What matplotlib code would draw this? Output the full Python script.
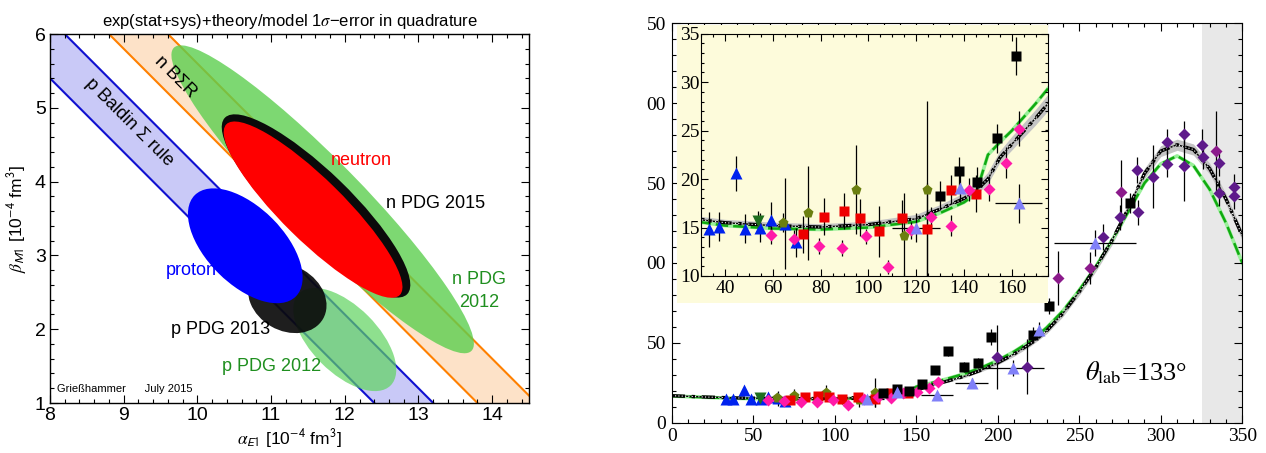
import numpy as np
import matplotlib.pyplot as plt
from matplotlib.patches import Ellipse, Rectangle

plt.rcParams['mathtext.fontset'] = 'stix'
SANS = 'Liberation Sans'
SERIF = 'Liberation Serif'

# ---------------- left panel data ----------------
# sum-rule bands: alpha + beta between lo and hi
baldin_p = (13.4, 14.2)
baldin_n = (14.8, 15.6)

# ellipses: (name, center_x, center_y, semi_major, semi_minor, angle, colour, alpha)
ellipses = [
    ('n PDG 2012', 11.70, 3.76, 2.88, 0.52, -45.5, '#5ccf4f', 0.8),
    ('n PDG 2015', 11.61, 3.67, 1.72, 0.47, -44, '#0a0a0a', 1.0),
    ('neutron',    11.57, 3.62, 1.65, 0.42, -44.5, '#ff0000', 1.0),
    ('p PDG 2012', 12.00, 1.86, 0.88, 0.45, -45, '#5fd35f', 0.7),
    ('p PDG 2013', 11.22, 2.42, 0.56, 0.44, -30, '#0a0a0a', 0.92),
    ('proton',     10.65, 3.13, 0.97, 0.52, -45, '#0000ff', 1.0),
]

# ---------------- right panel data ----------------
curve_x = [0, 20, 40, 60, 80, 100, 120, 130, 140, 145, 150, 155, 160, 170, 180, 190,
           200, 210, 220, 230, 240, 250, 260, 270, 280, 290, 300, 310, 320, 330, 340, 350]
theory_y = [16.9, 16.1, 15.5, 15.2, 15.05, 15.3, 15.9, 16.9, 18.0, 18.8, 20.0, 22.2, 23.6,
            26.3, 29.2, 33.0, 37.5, 43.0, 49.5, 57.5, 68.5, 82.0, 97.0, 114.0, 134.0, 156.0,
            170.0, 174.0, 171.0, 159.0, 140.0, 117.0]
theory_err = [0.3, 0.3, 0.3, 0.3, 0.3, 0.3, 0.4, 0.4, 0.5, 0.5, 0.6, 0.6, 0.7, 0.8, 0.9, 1.0,
              1.2, 1.4, 1.6, 1.8, 2.0, 2.2, 2.5, 2.8, 3.0, 3.2, 3.4, 3.5, 3.5, 3.4, 3.2, 3.0]
green_y = [16.7, 15.9, 15.2, 14.9, 14.8, 15.0, 15.6, 16.5, 17.6, 18.5, 22.5, 23.8, 25.0,
           27.8, 30.8, 34.5, 39.0, 44.5, 51.0, 59.5, 70.0, 83.0, 97.5, 114.0, 132.0, 150.0,
           162.0, 167.0, 161.0, 146.0, 125.0, 100.0]

blue_tri_x = [33.5, 37.5, 44.5, 48.4, 54.6, 59.2, 65.3, 69.7]
blue_tri_y = [14.8, 15.1, 20.6, 14.9, 15.0, 15.8, 15.4, 13.5]
blue_tri_e = [1.8, 1.5, 1.8, 1.5, 1.5, 1.8, 4.7, 1.5]

dgreen_x = [54.0]
dgreen_y = [15.7]
dgreen_e = [1.0]

olive_x = [64.4, 74.8, 94.7, 114.7, 124.5]
olive_y = [15.5, 16.5, 18.9, 14.1, 18.9]
olive_e = [1.0, 4.8, 4.6, 4.5, 9.2]

red_x = [72.7, 81.5, 89.7, 96.4, 104.5, 114.2, 124.5, 134.6, 145.1]
red_y = [14.3, 16.1, 16.7, 16.0, 14.6, 16.0, 14.8, 18.9, 18.5]
red_e = [1.9, 1.9, 1.9, 1.9, 2.6, 1.8, 4.8, 1.5, 1.9]

pink_x = [59.1, 68.8, 79.3, 89.0, 98.9, 108.2, 117.9, 126.4, 134.6, 142.0, 150.4, 157.6, 163.2]
pink_y = [14.2, 13.8, 13.1, 12.9, 14.1, 10.9, 14.7, 16.1, 15.2, 18.9, 19.0, 21.7, 25.2]
pink_e = [0.9, 0.9, 0.8, 0.8, 0.8, 0.7, 0.9, 1.0, 1.1, 1.2, 1.3, 1.6, 1.8]

black_x = [129.8, 137.9, 145.4, 153.7, 161.8, 169.7, 179.0, 188.0, 196.0, 221.8, 231.5, 281.3]
black_y = [18.3, 20.8, 19.7, 24.2, 32.7, 44.6, 34.7, 37.2, 53.6, 55.0, 72.8, 137.5]
black_e = [1.5, 1.5, 1.5, 1.5, 2.0, 3.0, 3.0, 3.0, 5.0, 5.0, 5.0, 6.0]

lblue_x = [120.0, 138.5, 162.8, 183.9, 209.5, 225.0, 259.8]
lblue_y = [15.0, 19.1, 17.5, 25.1, 34.1, 58.2, 112.5]
lblue_xe = [10, 0, 10, 10, 19, 0, 25]
lblue_e = [1.5, 1.5, 2.0, 3.0, 5.0, 5.0, 8.0]

purple_x = [199.3, 218.0, 264.8, 275.0, 285.3, 286.3, 295.5, 303.7, 303.7, 314.0, 314.0,
            325.2, 325.6, 335.8, 335.8, 345.2, 345.2]
purple_y = [41.4, 35.1, 116.1, 128.5, 158.3, 131.6, 154.1, 176.0, 162.0, 180.8, 160.8,
            173.9, 166.6, 162.5, 143.7, 147.4, 142.0]
purple_e = [20, 17, 8, 8, 8, 8, 20, 8, 8, 8, 22, 10, 8, 8, 8, 8, 8]

mpurple_x = [237.2, 256.6, 275.6, 333.8]
mpurple_y = [90.6, 96.7, 144.3, 169.8]
mpurple_e = [17, 10, 20, 25]

series = [
    (blue_tri_x, blue_tri_y, None, blue_tri_e, '^', '#0022ee', 9),
    (dgreen_x, dgreen_y, None, dgreen_e, 'v', '#1f6f1f', 8),
    (olive_x, olive_y, None, olive_e, 'p', '#6b7f10', 8),
    (red_x, red_y, None, red_e, 's', '#ee0000', 7),
    (pink_x, pink_y, None, pink_e, 'D', '#ff1aa8', 6.5),
    (black_x, black_y, None, black_e, 's', '#000000', 7),
    (lblue_x, lblue_y, lblue_xe, lblue_e, '^', '#8080f8', 9),
    (purple_x, purple_y, None, purple_e, 'D', '#5e1a8a', 6.5),
    (mpurple_x, mpurple_y, None, mpurple_e, 'D', '#8b1a8b', 6.5),
]

fig = plt.figure(figsize=(12.66, 4.53), dpi=100)

# ================= left panel =================
ax1 = fig.add_axes([50 / 1266, 50 / 453, 479 / 1266, 369 / 453])
ax1.set_xlim(8, 14.5)
ax1.set_ylim(1, 6)
xs = np.array([7.0, 15.0])
for (lo, hi), fc, lc in [(baldin_n, '#fde2c8', '#ff8000'), (baldin_p, '#c9c9f7', '#1010d0')]:
    ax1.fill_between(xs, lo - xs, hi - xs, color=fc, lw=0, zorder=1)
    ax1.plot(xs, lo - xs, color=lc, lw=1.5, zorder=1.5)
    ax1.plot(xs, hi - xs, color=lc, lw=1.5, zorder=1.5)
for i, (name, cx, cy, a, b, ang, col, al) in enumerate(ellipses):
    ax1.add_patch(Ellipse((cx, cy), 2 * a, 2 * b, angle=ang, facecolor=col,
                          edgecolor='none', alpha=al, zorder=2 + i * 0.1))

kw = dict(family=SANS, fontsize=13, zorder=5)
ax1.text(9.7, 5.42, 'n B\u03a3R', rotation=-45, ha='center', va='center', **kw)
ax1.text(9.07, 4.8, 'p Baldin \u03a3 rule', rotation=-45, ha='center', va='center', **kw)
ax1.text(12.22, 4.29, 'neutron', color='#ff0000', ha='center', va='center', **kw)
ax1.text(13.23, 3.70, 'n PDG 2015', color='black', ha='center', va='center', **kw)
ax1.text(13.82, 2.52, 'n PDG\n2012', color='#1f8f1f', ha='center', va='center',
         linespacing=1.5, **kw)
ax1.text(9.92, 2.8, 'proton', color='#0000ff', ha='center', va='center', **kw)
ax1.text(10.31, 2.0, 'p PDG 2013', color='black', ha='center', va='center', **kw)
ax1.text(11.01, 1.49, 'p PDG 2012', color='#1f8f1f', ha='center', va='center', **kw)
ax1.text(8.1, 1.19, 'Grie\u00dfhammer      July 2015', family=SANS, fontsize=8,
         ha='left', va='center')

ax1.set_title('exp(stat+sys)+theory/model 1$\\sigma$\u2212error in quadrature',
              family=SANS, fontsize=12, pad=6)
ax1.set_xlabel('$\\alpha_{\\mathsf{E1}}$ [10$^{\\mathsf{-4}}$ fm$^{\\mathsf{3}}$]',
               family=SANS, fontsize=12.5, labelpad=2)
ax1.set_ylabel('$\\beta_{\\mathsf{M1}}$ [10$^{\\mathsf{-4}}$ fm$^{\\mathsf{3}}$]',
               family=SANS, fontsize=12.5, labelpad=4)
ax1.set_xticks(np.arange(8, 15, 1))
ax1.set_xticks(np.arange(8, 14.6, 0.2), minor=True)
ax1.set_yticks(np.arange(1, 7, 1))
ax1.set_yticks(np.arange(1, 6.01, 0.2), minor=True)
ax1.tick_params(which='both', direction='in', top=True, right=True, width=0.8)
ax1.tick_params(which='major', length=6, labelsize=14, pad=3)
ax1.tick_params(which='minor', length=3)
for lab in ax1.get_xticklabels() + ax1.get_yticklabels():
    lab.set_family(SANS)
for s in ax1.spines.values():
    s.set_linewidth(1.0)


def draw_data(ax, ms_scale=1.0):
    ax.fill_between(curve_x, np.array(theory_y) - theory_err, np.array(theory_y) + theory_err,
                    color='#c4c4c4', lw=0, zorder=1.2)
    ax.plot(curve_x, green_y, color='#9af09a', lw=2.6, zorder=1.3)
    ax.plot(curve_x, green_y, color='#11aa11', lw=1.8, dashes=(5, 2), zorder=1.4)
    ax.plot(curve_x, theory_y, color='black', lw=1.0, zorder=1.5)
    ax.plot(curve_x, theory_y, color='black', lw=2.4, dashes=(4, 2, 1, 2), zorder=1.6)
    ax.plot(curve_x, theory_y, color='white', lw=0.8, dashes=(1, 2), zorder=1.7)
    for x, y, xe, ye, m, c, ms in series:
        ax.errorbar(x, y, yerr=ye, xerr=xe, fmt='none', ecolor='black', elinewidth=0.9,
                    zorder=1.8)
        ax.plot(x, y, m, color=c, ms=ms * ms_scale, mec='none', zorder=1.9)


# ================= right panel =================
ax2 = fig.add_axes([671.7 / 1266, 30.3 / 453, 570.6 / 1266, 399.4 / 453])
ax2.set_xlim(0, 350)
ax2.set_ylim(0, 250)
ax2.axvspan(325, 350, color='#e8e8e8', lw=0, zorder=0.5)
draw_data(ax2)
ax2.text(285, 31, '$\\theta_{\\mathrm{lab}}$=133\u00b0', family=SERIF, fontsize=19,
         ha='center', va='center')
ax2.set_xticks(np.arange(0, 351, 50))
ax2.set_xticks(np.arange(0, 351, 10), minor=True)
ax2.set_yticks(np.arange(0, 251, 50))
ax2.set_yticklabels(['0', '50', '00', '50', '00', '50'])
ax2.set_yticks(np.arange(0, 251, 10), minor=True)
ax2.tick_params(which='both', direction='in', top=True, right=True, width=0.8)
ax2.tick_params(which='major', length=6, labelsize=14, pad=4)
ax2.tick_params(which='minor', length=3)
for lab in ax2.get_xticklabels() + ax2.get_yticklabels():
    lab.set_family(SERIF)
# yellow backdrop of the inset
ax2.add_patch(Rectangle(((677 - 671.7) / 570.6, (422.7 - 303) / 399.4),
                        371 / 570.6, 0.996 - (422.7 - 303) / 399.4,
                        transform=ax2.transAxes, facecolor='#fdfbdb', edgecolor='none',
                        zorder=2.4))

# ================= inset =================
ax3 = fig.add_axes([701 / 1266, (453 - 276) / 453, 346.7 / 1266, 242.3 / 453])
ax3.set_facecolor('#fdfbdb')
ax3.set_xlim(30, 175)
ax3.set_ylim(10, 35)
draw_data(ax3, 1.0)
ax3.set_xticks(np.arange(40, 161, 20))
ax3.set_xticks(np.arange(30, 176, 5), minor=True)
ax3.set_yticks(np.arange(10, 36, 5))
ax3.set_yticks(np.arange(10, 36, 1), minor=True)
ax3.tick_params(which='both', direction='in', top=True, right=True, width=0.8)
ax3.tick_params(which='major', length=5, labelsize=14, pad=3)
ax3.tick_params(axis='y', which='major', pad=1)
ax3.tick_params(which='minor', length=2.5)
for lab in ax3.get_xticklabels() + ax3.get_yticklabels():
    lab.set_family(SERIF)

fig.savefig('out.png', dpi=100)
